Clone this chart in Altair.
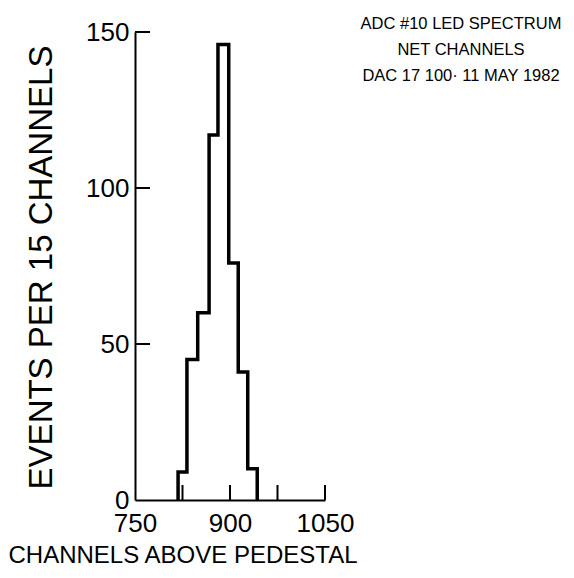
import altair as alt
import pandas as pd

# ---- data ----
bin_edges = [818, 832, 849, 867, 881, 898, 913, 928, 943]
counts = [9, 45, 60, 117, 146, 76, 41, 10]
x_tick_values = [825, 900, 975, 1050]
x_label_values = [750, 900, 1050]
y_tick_values = [50, 100, 150]
y_label_values = [0, 50, 100, 150]
title_lines = ["ADC #10 LED SPECTRUM", "NET CHANNELS", "DAC 17 100· 11 MAY 1982"]
x_title = "CHANNELS ABOVE PEDESTAL"
y_title = "EVENTS PER 15 CHANNELS"

# step outline of the histogram
xs = [bin_edges[0]] + bin_edges[:-1] + [bin_edges[-1]]
ys = [0] + counts + [0]
hist = pd.DataFrame({"x": xs, "y": ys, "i": list(range(len(xs)))})

W, H = 190, 468
FONT = "Liberation Sans"
xscale = alt.Scale(domain=[750, 1050], nice=False, zero=False)
yscale = alt.Scale(domain=[0, 150], nice=False)

x_axis = alt.Axis(
    values=x_label_values, format="d", ticks=False, grid=False, domainColor="black", domainWidth=2,
    labelFont=FONT, labelFontSize=26, labelColor="black", labelPadding=10,
    labelFlush=False, labelOverlap=False,
    title=x_title, titleFont=FONT, titleFontSize=24, titleFontWeight="normal",
    titleColor="black", titleX=-127, titleY=62, titleAlign="left",
    titleBaseline="alphabetic", titleAngle=0)
y_axis = alt.Axis(
    values=y_label_values, format="d", ticks=False, grid=False, domainColor="black", domainWidth=2,
    labelFont=FONT, labelFontSize=26, labelColor="black", labelPadding=6,
    labelFlush=False, labelOverlap=False,
    title=y_title, titleFont=FONT, titleFontSize=33, titleFontWeight="normal",
    titleColor="black", titleX=-84, titleY=235, titleAlign="center",
    titleBaseline="alphabetic", titleAngle=270)

line = alt.Chart(hist).mark_line(
    interpolate="step-after", color="black", strokeWidth=3.5, strokeJoin="miter"
).encode(
    x=alt.X("x:Q", scale=xscale, axis=x_axis),
    y=alt.Y("y:Q", scale=yscale, axis=y_axis),
    order="i:Q",
)

xt = alt.Chart(pd.DataFrame({"x": x_tick_values})).mark_rule(color="black", strokeWidth=2).encode(
    x=alt.X("x:Q", scale=xscale, axis=x_axis), y=alt.value(H), y2=alt.value(H - 15))
yt = alt.Chart(pd.DataFrame({"y": y_tick_values})).mark_rule(color="black", strokeWidth=2).encode(
    y=alt.Y("y:Q", scale=yscale, axis=y_axis), x=alt.value(0), x2=alt.value(15))

ttl = alt.Chart(pd.DataFrame({"t": ["\n".join(title_lines)]})).mark_text(
    lineBreak="\n", align="center", baseline="top", fontSize=16.5, lineHeight=26,
    font=FONT, color="black"
).encode(text="t:N", x=alt.value(326), y=alt.value(-16))

chart = alt.layer(line, xt, yt, ttl).properties(
    width=W, height=H, autosize="none",
    padding={"left": 127, "top": 24, "right": 241, "bottom": 70},
    background="white",
).configure_view(stroke=None)

chart.save("out.html", embed_options={"renderer": "svg", "actions": False})
